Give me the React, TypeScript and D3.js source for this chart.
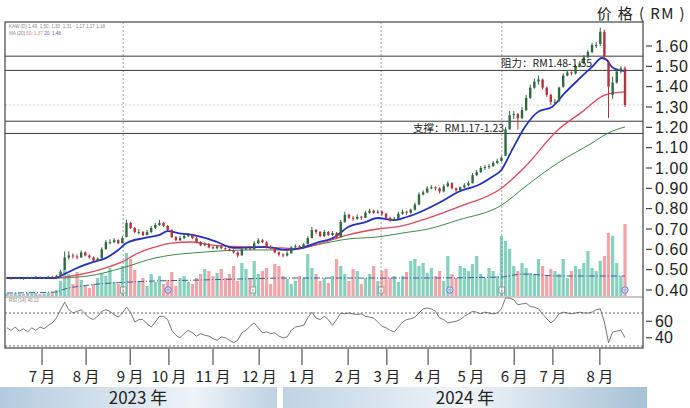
import React from 'react';
import * as d3 from 'd3';

// [open, high, low, close] per candle (≈2 trading days each)
const ohlc: [number, number, number, number][] = [
  [.46,.465,.455,.46],[.46,.46,.45,.455],[.455,.465,.455,.46],[.46,.465,.455,.46],[.46,.46,.45,.455],
  [.455,.465,.455,.46],[.46,.465,.455,.46],[.46,.47,.46,.465],[.465,.465,.455,.46],[.46,.465,.455,.46],
  [.46,.47,.46,.465],[.465,.47,.455,.46],[.46,.475,.46,.47],[.47,.50,.47,.49],[.50,.59,.50,.56],
  [.56,.59,.55,.57],[.57,.58,.555,.565],[.565,.575,.55,.56],[.56,.595,.56,.585],[.585,.59,.565,.57],
  [.57,.575,.555,.56],[.56,.565,.54,.545],[.545,.56,.54,.555],[.555,.61,.555,.60],[.60,.645,.60,.635],
  [.635,.65,.625,.635],[.635,.655,.63,.645],[.645,.65,.625,.63],[.63,.665,.63,.655],[.66,.745,.66,.73],
  [.73,.735,.70,.705],[.705,.71,.68,.685],[.685,.70,.675,.685],[.685,.69,.665,.67],[.67,.695,.67,.685],
  [.685,.715,.68,.705],[.705,.73,.70,.72],[.72,.745,.715,.73],[.73,.735,.71,.715],[.715,.72,.69,.695],
  [.695,.70,.655,.66],[.66,.665,.64,.645],[.645,.665,.64,.655],[.655,.675,.65,.665],[.665,.68,.66,.67],
  [.67,.675,.65,.655],[.655,.66,.63,.635],[.635,.64,.615,.62],[.62,.635,.615,.625],[.625,.63,.605,.61],
  [.61,.615,.60,.605],[.605,.62,.60,.615],[.615,.62,.60,.605],[.605,.61,.595,.60],[.60,.605,.59,.595],
  [.595,.60,.58,.585],[.585,.59,.56,.57],[.57,.605,.57,.60],[.60,.61,.595,.605],[.605,.61,.595,.60],
  [.60,.64,.60,.63],[.63,.655,.625,.645],[.645,.65,.63,.635],[.635,.64,.605,.61],[.61,.62,.60,.605],
  [.605,.61,.58,.585],[.585,.59,.565,.575],[.575,.58,.56,.57],[.57,.59,.565,.58],[.58,.615,.58,.61],
  [.61,.625,.605,.615],[.615,.62,.60,.61],[.61,.63,.605,.625],[.625,.665,.625,.655],[.655,.71,.655,.695],
  [.695,.70,.675,.685],[.685,.69,.66,.665],[.665,.695,.66,.685],[.685,.69,.665,.67],[.67,.69,.665,.68],
  [.68,.685,.655,.66],[.66,.745,.66,.735],[.735,.785,.73,.77],[.77,.775,.75,.755],[.755,.765,.74,.75],
  [.75,.77,.745,.76],[.76,.765,.745,.755],[.755,.79,.755,.78],[.78,.80,.775,.79],[.79,.795,.775,.78],
  [.78,.795,.775,.785],[.785,.79,.765,.775],[.775,.78,.75,.755],[.755,.76,.735,.745],[.745,.76,.74,.75],
  [.75,.785,.75,.775],[.775,.795,.77,.785],[.785,.79,.77,.78],[.78,.80,.775,.795],[.795,.83,.79,.82],
  [.82,.88,.82,.87],[.87,.89,.865,.88],[.88,.91,.875,.90],[.90,.915,.895,.905],[.905,.91,.89,.90],
  [.90,.905,.875,.885],[.885,.92,.88,.91],[.91,.935,.905,.925],[.925,.93,.895,.90],[.90,.905,.88,.89],
  [.89,.91,.885,.905],[.905,.925,.90,.915],[.915,.935,.91,.925],[.925,.975,.925,.965],[.965,.99,.96,.98],
  [.98,1.01,.975,1.00],[1.00,1.015,.99,1.005],[1.005,1.02,.995,1.01],[1.01,1.035,1.005,1.025],[1.025,1.045,1.02,1.035],
  [1.035,1.06,1.03,1.05],[1.06,1.20,1.06,1.19],[1.19,1.28,1.19,1.26],[1.26,1.28,1.24,1.265],[1.265,1.27,1.19,1.245],
  [1.245,1.30,1.24,1.285],[1.285,1.36,1.28,1.345],[1.345,1.41,1.34,1.395],[1.395,1.44,1.39,1.425],[1.425,1.455,1.41,1.435],
  [1.435,1.44,1.385,1.395],[1.395,1.40,1.35,1.36],[1.36,1.365,1.31,1.325],[1.325,1.34,1.31,1.325],[1.33,1.40,1.325,1.395],
  [1.40,1.465,1.395,1.455],[1.455,1.48,1.45,1.47],[1.47,1.475,1.455,1.465],[1.465,1.51,1.46,1.50],[1.50,1.525,1.495,1.515],
  [1.515,1.555,1.51,1.545],[1.545,1.58,1.54,1.57],[1.57,1.615,1.565,1.605],[1.605,1.62,1.59,1.605],[1.61,1.69,1.60,1.67],
  [1.67,1.68,1.53,1.55],[1.52,1.53,1.245,1.40],[1.36,1.45,1.34,1.42],[1.42,1.49,1.415,1.475],[1.475,1.50,1.465,1.49],
  [1.49,1.50,1.30,1.31],
];

// volume, million shares
const volumes: number[] = [
  0.5,0.4,0.6,0.5,0.4,0.7,0.5,0.6,0.4,0.5,
  0.6,0.8,1.2,3.0,5.4,4.4,2.4,4.8,3.2,2.0,
  1.6,2.4,3.6,4.6,4.0,5.6,2.8,2.4,6.0,8.6,
  7.4,5.2,3.0,3.6,2.0,4.4,2.8,4.0,2.4,3.2,
  4.8,2.0,3.6,4.0,2.8,2.4,3.6,4.4,5.4,5.0,
  4.0,4.6,5.4,3.6,4.4,6.0,3.0,6.6,5.4,3.6,
  7.0,4.4,5.0,5.6,2.4,6.4,6.0,4.0,3.4,2.4,
  3.0,4.0,3.6,8.4,5.6,4.4,3.0,3.6,2.6,4.0,
  7.4,6.0,4.4,3.0,5.4,5.0,2.4,3.6,4.4,6.0,
  3.0,5.0,5.4,3.6,4.0,2.8,4.0,4.8,7.0,7.4,
  6.0,6.6,4.6,5.6,4.0,5.0,3.0,8.0,4.4,3.6,
  6.0,5.6,5.0,6.4,8.0,4.4,3.6,5.6,5.0,4.0,
  12.0,11.0,9.4,6.0,5.0,6.6,5.6,4.6,4.4,7.4,
  6.0,4.0,5.4,5.0,4.4,7.4,3.6,5.0,6.0,5.4,
  6.6,9.0,5.6,5.0,7.0,8.0,12.6,12.0,6.6,4.0,
  14.4,
];

const rsi: number[] = [
  52,49,53,48,51,47,52,49,53,51,
  55,58,64,74,83,74,70,72,74,69,
  64,62,66,72,74,72,68,65,70,77,
  71,59,62,62,57,53,59,66,66,62,
  49,43,40,45,49,46,42,45,43,42,
  39,37,41,40,37,34,37,46,49,54,
  58,52,46,47,45,46,42,40,41,49,
  53,54,55,64,71,64,62,66,62,55,
  62,70,69,70,69,68,69,66,65,64,
  59,54,52,49,47,53,59,62,63,65,
  70,75,76,75,72,64,62,58,59,60,
  62,66,69,72,71,69,71,70,69,70,
  75,88,88,86,80,81,82,78,77,75,
  69,63,58,62,69,71,70,69,70,71,
  70,70,71,74,75,59,34,47,48,49,
  40,
];

// moving averages: [candle index, price]
const maShort: [number, number][] = [
  [0,.459],[11.7,.459],[14,.479],[17,.508],[21,.538],[24,.557],[27,.597],[29,.631],[33.5,.656],[37,.671],
  [39,.69],[41.5,.68],[45,.671],[48,.656],[51,.636],[55,.607],[62.6,.612],[68,.597],[71.6,.607],[75,.631],
  [79.6,.661],[82.8,.71],[87,.734],[90,.754],[94,.744],[97,.759],[101,.79],[105,.83],[109.5,.882],[114.8,.92],
  [117.7,.956],[120,.99],[122.6,1.089],[125.7,1.202],[128.9,1.276],[132.3,1.30],[135.4,1.369],[138.6,1.433],
  [142,1.497],[144.4,1.541],[145.6,1.531],[146.8,1.497],[148.3,1.482],[150,1.477],
];
const maMid: [number, number][] = [
  [0,.459],[11.7,.459],[15.8,.469],[20.6,.489],[23.8,.508],[27.9,.538],[31.8,.582],[36.7,.616],[40,.631],[45,.636],
  [49.8,.621],[58.5,.612],[66.7,.607],[70.6,.602],[74.8,.621],[82.8,.671],[90,.70],[95.9,.715],[102.2,.754],
  [109.5,.808],[120.1,.902],[125.7,1.005],[133.7,1.187],[139.6,1.276],[145.1,1.359],[150,1.374],
];
const maLong: [number, number][] = [
  [0,.459],[11.7,.459],[19.7,.469],[27.9,.508],[35.9,.557],[40,.572],[45,.582],[51.7,.592],[58.5,.597],[66.7,.597],
  [74.8,.621],[82.8,.651],[90,.661],[95.9,.68],[102.2,.70],[109.5,.744],[120.1,.818],[125.7,.907],[133.7,1.025],
  [142,1.123],[145.9,1.172],[150,1.202],
];
const volMA: [number, number][] = [
  [0,.6],[11.7,.8],[14,1.4],[20,2.2],[30,2.8],[47,3.2],[71,3.6],[100,3.6],[120,3.8],[125,4.4],[134,4.0],[150,4.0],
];

const monthTicks: [number, string][] = [
  [8.5,'7 月'],[19.2,'8 月'],[29.9,'9 月'],[39.3,'10 月'],[50.0,'11 月'],[61.2,'12 月'],[71.6,'1 月'],
  [82.8,'2 月'],[92.2,'3 月'],[102.2,'4 月'],[112.6,'5 月'],[123.1,'6 月'],[132.5,'7 月'],[143.9,'8 月'],
];
const priceTicks = [0.4,0.5,0.6,0.7,0.8,0.9,1.0,1.1,1.2,1.3,1.4,1.5,1.6];
const rsiTicks = [60, 40];
const rsiGuides = [70, 30];
const resistance = [1.48, 1.55];
const support = [1.17, 1.23];
const lastPrice = 1.31;
const eventLines = [28.2, 90.8, 120.1];
const eventMarks: [number, string][] = [[28.2,'s'],[39.1,'c'],[59.7,'s'],[90.8,'s'],[107.5,'c'],[120.1,'s'],[150,'c']];
const yearLabels = ['2023 年', '2024 年'];

const UP = '#2f6a3f';
const DOWN = '#b0333d';
const VUP = '#86d0be';
const VDOWN = '#f2a4a8';
const CJK = "'Noto Sans CJK SC', 'Liberation Sans', sans-serif";
const SANS = "'Liberation Sans', Arial, sans-serif";

export default function App() {
  const L = 5, R = 643, T = 22, MB = 297, RB = 348;
  const x = d3.scaleLinear().domain([0, ohlc.length - 1]).range([7, 625]);
  const yP = d3.scaleLinear().domain([0.4, 1.6]).range([290, 46]);
  const yV = d3.scaleLinear().domain([0, 14]).range([296, 226]);
  const yR = d3.scaleLinear().domain([30, 70]).range([346, 313]);

  const maLine = d3.line<[number, number]>().x(d => x(d[0])).y(d => yP(d[1])).curve(d3.curveMonotoneX);
  const vLine = d3.line<[number, number]>().x(d => x(d[0])).y(d => yV(d[1])).curve(d3.curveMonotoneX);
  const rLine = d3.line<number>().x((_, i) => x(i)).y(d => yR(d));

  return (
    <svg width={690} height={408} style={{ position: 'absolute', left: 0, top: 0, background: '#fff' }} fontFamily={SANS}>
      <defs>
        <linearGradient id="yb1" x1="0" x2="1" y1="0" y2="0">
          <stop offset="0" stopColor="#b3cbde" />
          <stop offset="0.7" stopColor="#eef4f8" />
          <stop offset="1" stopColor="#bcd2e2" />
        </linearGradient>
        <linearGradient id="yb2" x1="0" x2="1" y1="0" y2="0">
          <stop offset="0" stopColor="#bed3e3" />
          <stop offset="0.5" stopColor="#f0f5f9" />
          <stop offset="1" stopColor="#a6c1d5" />
        </linearGradient>
        <clipPath id="mainClip"><rect x={L} y={T} width={R - L} height={MB - T} /></clipPath>
      </defs>

      {/* title */}
      <text x={686} y={18.5} textAnchor="end" fontFamily={CJK} fontSize={15} letterSpacing={1.4} fill="#222">价 格 ( RM )</text>

      {/* main panel background */}
      <rect x={L} y={T} width={R - L} height={RB - T} fill="#fff" />

      <g clipPath="url(#mainClip)">
        {/* volume bars */}
        {volumes.map((v, i) => {
          const [o, , , c] = ohlc[i];
          return <rect key={'v' + i} x={x(i) - 1.6} width={3.2} y={yV(v)} height={yV(0) - yV(v)} fill={c >= o ? VUP : VDOWN} />;
        })}
        <path d={vLine(volMA) || ''} fill="none" stroke="#3d5b9c" strokeWidth={1} strokeDasharray="6,2,1,2" />

        {/* event markers */}
        {eventMarks.map(([i, t], k) => t === 's'
          ? <g key={'m' + k}><rect x={x(i) - 2.8} y={287} width={5.6} height={6} fill="#fff" stroke="#888" strokeWidth={0.8} /><line x1={x(i)} x2={x(i)} y1={288.5} y2={291.5} stroke="#888" strokeWidth={0.8} /></g>
          : <g key={'m' + k}><circle cx={x(i)} cy={290} r={3.2} fill="#e6e8fb" stroke="#5a6bd0" strokeWidth={0.9} /><circle cx={x(i)} cy={290} r={1.2} fill="none" stroke="#5a6bd0" strokeWidth={0.6} /></g>
        )}

        {/* event vertical lines */}
        {eventLines.map((i, k) => (
          <line key={'e' + k} x1={x(i)} x2={x(i)} y1={T} y2={MB} stroke="#8a8a8a" strokeWidth={0.8} strokeDasharray="2,2" />
        ))}

        {/* last price line */}
        <line x1={L} x2={R} y1={yP(lastPrice)} y2={yP(lastPrice)} stroke="#c4c4c4" strokeWidth={0.8} strokeDasharray="2,2" />

        {/* support / resistance */}
        {[...resistance, ...support].map((p, k) => (
          <line key={'sr' + k} x1={L} x2={R} y1={yP(p)} y2={yP(p)} stroke="#3a3a3a" strokeWidth={1} />
        ))}

        {/* moving averages */}
        <path d={maLine(maLong) || ''} fill="none" stroke="#3d8a46" strokeWidth={1} />
        <path d={maLine(maMid) || ''} fill="none" stroke="#e0465c" strokeWidth={1.3} />
        <path d={maLine(maShort) || ''} fill="none" stroke="#2430c0" strokeWidth={1.8} />

        {/* candles */}
        {ohlc.map(([o, h, l, c], i) => {
          const col = c >= o ? UP : DOWN;
          const cx = x(i);
          const yt = yP(Math.max(o, c));
          const yb = yP(Math.min(o, c));
          return (
            <g key={'c' + i}>
              <line x1={cx} x2={cx} y1={yP(h)} y2={yP(l)} stroke={col} strokeWidth={1} />
              <rect x={cx - 1.2} width={2.4} y={yt} height={Math.max(1, yb - yt)} fill={col} />
            </g>
          );
        })}
      </g>

      {/* annotation labels */}
      <text x={501} y={67} fontFamily={CJK} fontSize={10.5} fill="#222">阻力：RM1.48-1.55</text>
      <text x={413} y={131.5} fontFamily={CJK} fontSize={10.5} fill="#222">支撑：RM1.17-1.23</text>

      {/* legend (tiny) */}
      <text x={9} y={28} fontSize={4.6} fill="#888">KAW (D) 1.49, 1.50, 1.30, 1.31 · 1.17 1.17 1.18</text>
      <text x={9} y={35} fontSize={4.6} fill="#888">MA (20) <tspan fill="#e27a8a">50: 1.37</tspan> <tspan fill="#5a63c8">20: 1.48</tspan></text>

      {/* RSI panel */}
      <line x1={L} x2={R} y1={MB} y2={MB} stroke="#777" strokeWidth={0.8} />
      <text x={9} y={302} fontSize={4.6} fill="#888">RSI (14) 40.12</text>
      {rsiGuides.map((v, k) => (
        <line key={'rg' + k} x1={L} x2={R} y1={yR(v)} y2={yR(v)} stroke="#555" strokeWidth={0.9} strokeDasharray="2,2" />
      ))}
      <path d={rLine(rsi) || ''} fill="none" stroke="#555" strokeWidth={0.8} />

      {/* frame */}
      <rect x={L} y={T} width={R - L} height={RB - T} fill="none" stroke="#444" strokeWidth={1.2} />

      {/* right axis */}
      {priceTicks.map((p, k) => (
        <g key={'pt' + k}>
          <line x1={646} x2={652} y1={yP(p)} y2={yP(p)} stroke="#222" strokeWidth={1} />
          <text x={655} y={yP(p) + 5.5} fontSize={16} letterSpacing={0.6} fill="#222">{p.toFixed(2)}</text>
        </g>
      ))}
      {rsiTicks.map((v, k) => (
        <g key={'rt' + k}>
          <line x1={646} x2={652} y1={yR(v)} y2={yR(v)} stroke="#222" strokeWidth={1} />
          <text x={655} y={yR(v) + 5.5} fontSize={16} fill="#222">{v}</text>
        </g>
      ))}

      {/* month axis */}
      {monthTicks.map(([i, lab], k) => (
        <g key={'mt' + k}>
          <line x1={x(i)} x2={x(i)} y1={RB + 1} y2={365} stroke="#333" strokeWidth={1} />
          <text x={x(i)} y={382} textAnchor="middle" fontFamily={CJK} fontSize={15} fill="#222">{lab}</text>
        </g>
      ))}

      {/* year bands */}
      <rect x={0} y={387} width={277} height={21} fill="url(#yb1)" />
      <rect x={283} y={387} width={364} height={21} fill="url(#yb2)" />
      <text x={138} y={404} textAnchor="middle" fontFamily={CJK} fontSize={17} fill="#222">{yearLabels[0]}</text>
      <text x={465} y={404} textAnchor="middle" fontFamily={CJK} fontSize={17} fill="#222">{yearLabels[1]}</text>
    </svg>
  );
}
